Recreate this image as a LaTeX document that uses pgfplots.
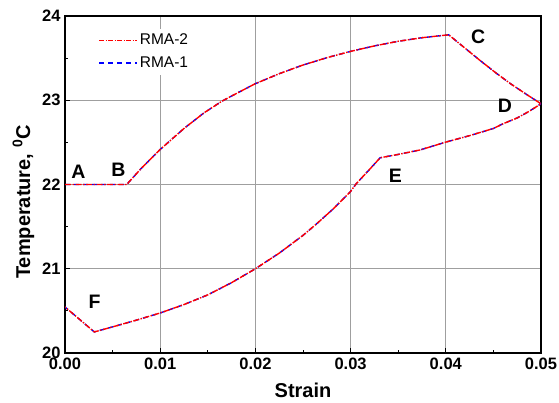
\documentclass[border=0pt]{standalone}
\usepackage{fontspec}
\setmainfont{Liberation Sans}
\usepackage{pgfplots}
\usepackage{pgfplotstable}
\pgfplotsset{compat=1.18}

\pgfplotstableread{
strain   T
0.0000   22.000
0.00648  22.000
0.0080   22.190
0.0100   22.416
0.0125   22.665
0.0146   22.850
0.0165   22.990
0.0180   23.080
0.0200   23.197
0.0225   23.315
0.0250   23.418
0.0275   23.505
0.0300   23.580
0.0325   23.645
0.0350   23.700
0.0375   23.742
0.0403   23.777
0.0420   23.620
0.0436   23.472
0.0452   23.330
0.0468   23.196
0.0484   23.075
0.0500   22.958
0.0487   22.865
0.0475   22.790
0.0460   22.720
0.0450   22.665
0.0425   22.580
0.0400   22.503
0.0373   22.410
0.0350   22.357
0.0331   22.317
0.0320   22.180
0.0306   22.010
0.0300   21.918
0.0282   21.713
0.0265   21.540
0.0250   21.396
0.0225   21.185
0.0200   21.000
0.0175   20.835
0.0150   20.690
0.0125   20.575
0.0100   20.475
0.0075   20.390
0.0050   20.310
0.00308  20.250
0.0000   20.546
}\rmaone

\pgfplotstableread{
strain   T
0.0000   22.000
0.00648  22.000
0.0080   22.190
0.0100   22.416
0.0125   22.665
0.0146   22.850
0.0165   22.990
0.0180   23.080
0.0200   23.197
0.0225   23.315
0.0250   23.418
0.0275   23.505
0.0300   23.580
0.0325   23.645
0.0350   23.700
0.0375   23.742
0.0403   23.777
0.0420   23.620
0.0436   23.472
0.0452   23.330
0.0468   23.196
0.0484   23.075
0.0500   22.958
0.0487   22.865
0.0475   22.790
0.0460   22.720
0.0450   22.665
0.0425   22.580
0.0400   22.503
0.0373   22.410
0.0350   22.357
0.0331   22.317
0.0320   22.180
0.0306   22.010
0.0300   21.918
0.0282   21.713
0.0265   21.540
0.0250   21.396
0.0225   21.185
0.0200   21.000
0.0175   20.835
0.0150   20.690
0.0125   20.575
0.0100   20.475
0.0075   20.390
0.0050   20.310
0.00308  20.250
0.0000   20.546
}\rmatwo

\begin{document}
\begin{tikzpicture}
\path[use as bounding box] (-65pt,-50pt) rectangle (494pt,353pt);
\begin{axis}[
  at={(0pt,0pt)}, anchor=south west,
  scale only axis,
  width=476pt, height=337pt,
  xmin=0, xmax=0.05, ymin=20, ymax=24,
  xtick={0,0.01,...,0.05},
  ytick={20,21,22,23,24},
  minor xtick={0.005,0.015,...,0.045},
  minor ytick={20.5,21.5,22.5,23.5},
  tick pos=left,
  tick align=inside,
  major tick length=5pt,
  minor tick length=3pt,
  grid=major,
  grid style={gray!75, line width=0.9pt},
  axis line style={black, line width=1.3pt},
  every tick/.style={black, line width=0.8pt},
  scaled x ticks=false,
  tick label style={font=\fontsize{16.5}{17}\selectfont\bfseries},
  xticklabel style={yshift=-1pt, /pgf/number format/.cd, fixed, fixed zerofill, precision=2, assume math mode=true},
  yticklabel style={xshift=-1pt, /pgf/number format/.cd, fixed, assume math mode=true},
  xlabel={Strain},
  ylabel={Temperature, \textsuperscript{0}C},
  label style={font=\fontsize{20}{22}\selectfont\bfseries},
  xlabel style={at={(axis description cs:0.5,-0.1335)}, anchor=base},
  ylabel style={at={(axis description cs:-0.0735,0.448)}, anchor=base},
  legend style={draw=white, fill=white, at={(0.066,0.962)}, anchor=north west,
    inner xsep=2pt, inner ysep=3pt, font=\fontsize{15.5}{16}\selectfont, row sep=6.5pt},
  legend cell align=left,
]
\addlegendimage{legend image code/.code={\draw[color=red, draw=red, line width=1.2pt, dash pattern=on 5pt off 1.5pt on 1pt off 1.5pt] (0pt,0pt) -- (38pt,0pt);}}
\addlegendentry{RMA-2}
\addlegendimage{legend image code/.code={\draw[color=blue, draw=blue, line width=1.2pt, dash pattern=on 5pt off 4pt] (0pt,0pt) -- (38pt,0pt);}}
\addlegendentry{RMA-1}
\addplot[forget plot, blue, line width=1.4pt, dash pattern=on 5pt off 4pt] table[x=strain, y=T] {\rmaone};
\addplot[forget plot, red, line width=1.4pt, dash pattern=on 6pt off 1.5pt on 1.5pt off 1.5pt] table[x=strain, y=T] {\rmatwo};
\node[font=\fontsize{19.5}{20}\selectfont\bfseries] at (axis cs:0.0014,22.15) {A};
\node[font=\fontsize{19.5}{20}\selectfont\bfseries] at (axis cs:0.0056,22.18) {B};
\node[font=\fontsize{19.5}{20}\selectfont\bfseries] at (axis cs:0.0434,23.75) {C};
\node[font=\fontsize{19.5}{20}\selectfont\bfseries] at (axis cs:0.0462,22.94) {D};
\node[font=\fontsize{19.5}{20}\selectfont\bfseries] at (axis cs:0.0347,22.10) {E};
\node[font=\fontsize{19.5}{20}\selectfont\bfseries] at (axis cs:0.0031,20.605) {F};
\end{axis}
\end{tikzpicture}
\end{document}
